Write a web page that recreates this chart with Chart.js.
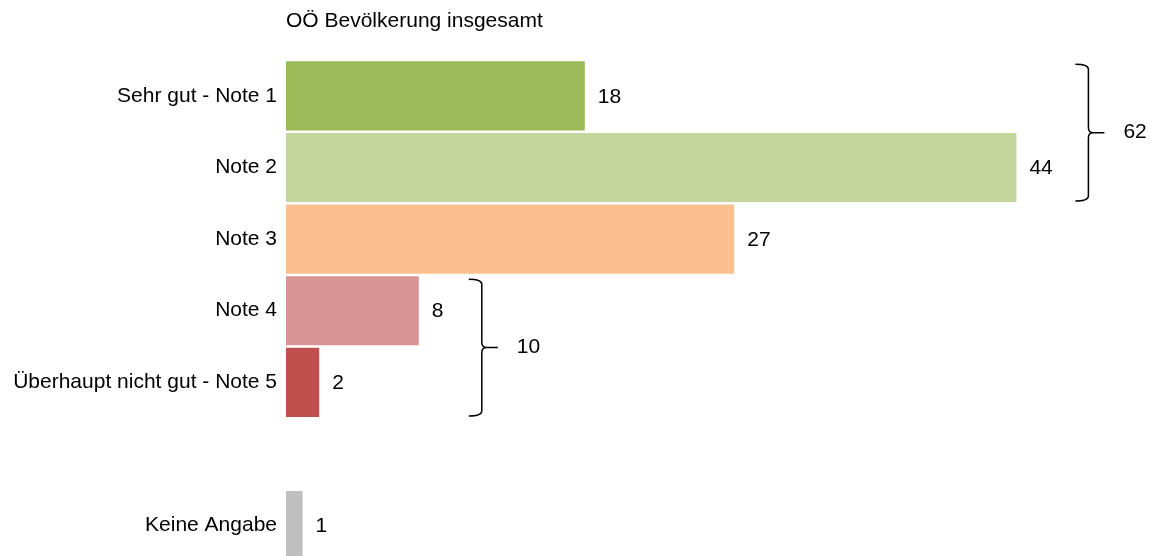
<!DOCTYPE html>
<html>
<head>
<meta charset="utf-8">
<script src="https://cdn.jsdelivr.net/npm/chart.js@4"></script>
<style>
  html, body { margin: 0; padding: 0; background: #fff; overflow: hidden; }
  #wrap { width: 1150px; height: 575px; position: relative; }
</style>
</head>
<body>
<div id="wrap"><canvas id="chart"></canvas></div>
<script>
// Daten
const categories = ['Sehr gut - Note 1', 'Note 2', 'Note 3', 'Note 4', 'Überhaupt nicht gut - Note 5', '', 'Keine Angabe'];
const values = [18, 44, 27, 8, 2, null, 1];
const barColors = ['#9BBB59', '#C3D69B', '#FAC090', '#D99594', '#C0504D', '#FFFFFF', '#BFBFBF'];
const chartTitle = 'OÖ Bevölkerung insgesamt';
// Klammern: Index von/bis
const braceGroups = [
    { from: 0, to: 1, gap: 59 },
    { from: 3, to: 4, gap: 50 }
];

const FONT = '"Liberation Sans", Arial, sans-serif';

const overlay = {
    id: 'overlay',
    afterDatasetsDraw(chart) {
        const ctx = chart.ctx;
        const xs = chart.scales.x;
        const meta = chart.getDatasetMeta(0);
        ctx.save();
        ctx.fillStyle = '#000';
        ctx.font = '21px ' + FONT;
        ctx.textBaseline = 'middle';

        // Titel
        ctx.textAlign = 'left';
        ctx.fillText(chartTitle, chart.chartArea.left, 21);

        // Werte
        meta.data.forEach((bar, i) => {
            if (values[i] == null) return;
            ctx.fillText(String(values[i]), bar.x + 13, bar.y + 1);
        });

        // Klammern
        ctx.strokeStyle = '#000';
        ctx.lineWidth = 1.5;
        braceGroups.forEach(g => {
            const b0 = meta.data[g.from];
            const b1 = meta.data[g.to];
            const top = b0.y - b0.height / 2 + 3;
            const bot = b1.y + b1.height / 2 - 1;
            const mid = (top + bot) / 2;
            let maxV = 0, sum = 0;
            for (let i = g.from; i <= g.to; i++) { maxV = Math.max(maxV, values[i]); sum += values[i]; }
            const x0 = xs.getPixelForValue(maxV) + g.gap;
            const x1 = x0 + 13;
            const x2 = x1 + 16;
            ctx.beginPath();
            ctx.moveTo(x0, top);
            ctx.quadraticCurveTo(x1, top, x1, top + 5);
            ctx.lineTo(x1, mid - 5);
            ctx.quadraticCurveTo(x1, mid, x1 + 5, mid);
            ctx.lineTo(x2, mid);
            ctx.moveTo(x1 + 5, mid);
            ctx.quadraticCurveTo(x1, mid, x1, mid + 5);
            ctx.lineTo(x1, bot - 5);
            ctx.quadraticCurveTo(x1, bot, x0, bot);
            ctx.stroke();
            ctx.fillText(String(sum), x2 + 19, mid);
        });
        ctx.restore();
    }
};

new Chart(document.getElementById('chart'), {
    type: 'bar',
    data: {
        labels: categories,
        datasets: [{
            data: values,
            backgroundColor: barColors,
            borderWidth: 0,
            categoryPercentage: 1,
            barPercentage: 0.965
        }]
    },
    options: {
        indexAxis: 'y',
        responsive: true,
        maintainAspectRatio: false,
        animation: false,
        layout: { padding: { top: 60, right: 34, bottom: 0, left: 0 } },
        plugins: {
            legend: { display: false },
            tooltip: { enabled: false },
            title: { display: false }
        },
        scales: {
            x: {
                display: false,
                min: 0,
                max: 50,
                grid: { display: false }
            },
            y: {
                grid: { display: false },
                border: { display: false },
                ticks: {
                    color: '#000',
                    padding: 1,
                    font: { family: FONT, size: 21 }
                },
                afterFit(scale) { scale.width = 286; }
            }
        }
    },
    plugins: [overlay]
});
</script>
</body>
</html>
